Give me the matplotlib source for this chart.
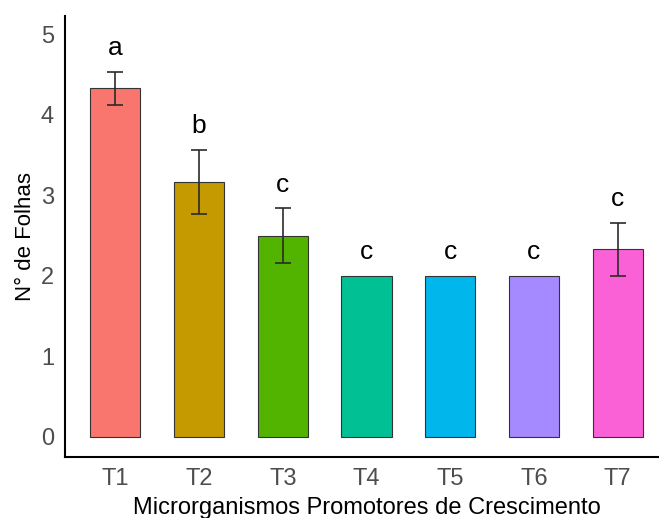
import numpy as np
import matplotlib.pyplot as plt

plt.rcParams['font.family'] = ['Liberation Sans', 'DejaVu Sans']

# treatment means, standard errors and Tukey letters
treatments = ["T1", "T2", "T3", "T4", "T5", "T6", "T7"]
means = [4.33, 3.17, 2.50, 2.00, 2.00, 2.00, 2.33]
errors = [0.21, 0.40, 0.34, 0.00, 0.00, 0.00, 0.33]
letters = ["a", "b", "c", "c", "c", "c", "c"]
colors = ["#F8766D", "#C49A00", "#53B400", "#00C094", "#00B6EB", "#A58AFF", "#FB61D7"]

fig = plt.figure(figsize=(6.59, 5.18), dpi=100)
W, H = 659, 518
ax = fig.add_axes([65 / W, 1 - 457 / H, (668 - 65) / W, (457 - 16) / H])

x = np.arange(1, len(treatments) + 1)
ax.bar(x, means, width=0.6, color=colors, edgecolor="#333333", linewidth=0.8, zorder=2)

# error bars only where there is spread
has_err = np.array(errors) > 0
ax.errorbar(x[has_err], np.array(means)[has_err], yerr=np.array(errors)[has_err],
            fmt="none", ecolor="#2b2b2b", elinewidth=1.2, capsize=6, capthick=1.2, zorder=3)

for xi, m, e, lab in zip(x, means, errors, letters):
    ax.annotate(lab, (xi, m + e), xytext=(0, 12), textcoords="offset points",
                ha="center", va="baseline", fontsize=19, color="black")

ax.set_xlim(0.4, 7.6)
ax.set_ylim(-0.25, 5.23)
ax.set_xticks(x)
ax.set_xticklabels(treatments)
ax.set_yticks([0, 1, 2, 3, 4, 5])

ax.tick_params(axis="both", length=0, labelsize=17, labelcolor="#4D4D4D")
ax.tick_params(axis="y", pad=8)
ax.tick_params(axis="x", pad=8)

for side in ["top", "right"]:
    ax.spines[side].set_visible(False)
for side in ["left", "bottom"]:
    ax.spines[side].set_linewidth(1.5)
    ax.spines[side].set_color("black")

ax.set_xlabel("Microrganismos Promotores de Crescimento", fontsize=17, labelpad=5)
ax.set_ylabel("N° de Folhas", fontsize=16, labelpad=3.5)

fig.savefig("out.png", dpi=100)
